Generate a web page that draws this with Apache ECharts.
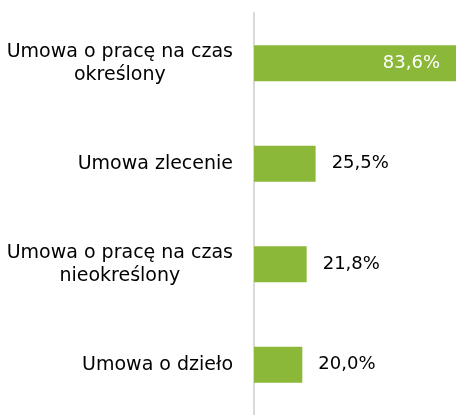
<!DOCTYPE html>
<html>
<head>
<meta charset="utf-8">
<script src="https://cdn.jsdelivr.net/npm/echarts@6/dist/echarts.min.js"></script>
<style>
  html, body { margin: 0; padding: 0; background: #ffffff; }
  #chart { width: 457px; height: 415px; }
</style>
</head>
<body>
<div id="chart"></div>
<script>
// rodzaje umów i udział (%)
var categories = [
  'Umowa o pracę na czas\nokreślony',
  'Umowa zlecenie',
  'Umowa o pracę na czas\nnieokreślony',
  'Umowa o dzieło'
];
var values = [83.6, 25.5, 21.8, 20.0];

var mychart = echarts.init(document.getElementById('chart'), null, { renderer: 'canvas' });

var seriesData = values.map(function (v, i) {
  if (i === 0) {
    // pierwszy słupek ma etykietę w środku
    return { value: v, label: { position: 'insideRight', color: '#ffffff' } };
  }
  return { value: v };
});

var option = {
  backgroundColor: '#ffffff',
  animation: false,
  grid: {
    left: 254,
    right: 0,
    top: 13,
    bottom: -5,
    containLabel: false
  },
  xAxis: {
    type: 'value',
    min: 0,
    max: 84,
    show: false
  },
  yAxis: {
    type: 'category',
    data: categories,
    inverse: true,
    axisLine: {
      show: true,
      lineStyle: { color: '#d9d9d9', width: 2 }
    },
    axisTick: { show: false },
    axisLabel: {
      margin: 21,
      align: 'right',
      formatter: function (v) {
        return v.split('\n').map(function (s) { return '{t|' + s + '}'; }).join('\n');
      },
      rich: {
        t: {
          color: '#000000',
          fontFamily: 'DejaVu Sans',
          fontSize: 19,
          lineHeight: 23,
          align: 'center'
        }
      }
    }
  },
  series: [{
    type: 'bar',
    data: seriesData,
    barWidth: 36,
    itemStyle: { color: '#8cb83a' },
    label: {
      show: true,
      position: 'right',
      distance: 16,
      color: '#000000',
      fontFamily: 'DejaVu Sans',
      fontSize: 18,
      formatter: function (p) {
        return p.value.toFixed(1).replace('.', ',') + '%';
      }
    }
  }]
};

mychart.setOption(option, true);
</script>
</body>
</html>
